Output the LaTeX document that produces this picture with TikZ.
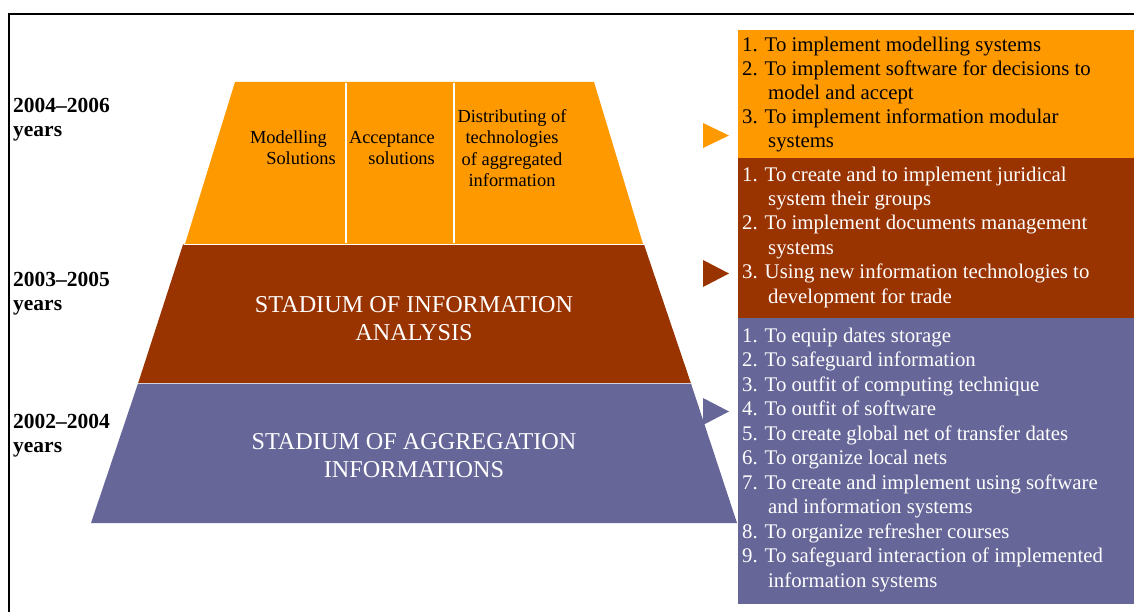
\documentclass[tikz,border=0pt]{standalone}
\usepackage{fontspec}
\setmainfont{Liberation Serif}
\definecolor{corange}{HTML}{FF9900}
\definecolor{cbrown}{HTML}{993300}
\definecolor{cpurple}{HTML}{666699}
\tikzset{
  yearlbl/.style={anchor=base west, align=left, inner sep=0pt, font=\fontsize{21.5}{24}\selectfont\bfseries},
  listtxt/.style={anchor=base west, align=left, inner sep=0pt, font=\fontsize{20.8}{24.4}\selectfont},
  stagetxt/.style={anchor=base, align=center, inner sep=0pt, text=white, font=\fontsize{24.2}{28}\selectfont},
  toptxt/.style={inner sep=0pt, font=\fontsize{18.4}{21.6}\selectfont},
  sepline/.style={draw=white, line width=1.2pt},
  frameline/.style={draw=black, line width=2pt}
}
\newcommand{\ind}{\hspace*{26pt}}
\begin{document}
\begin{tikzpicture}[x=1pt,y=-1pt]
\useasboundingbox (0,0) rectangle (1134,612);
% frame
\draw[frameline] (8.7,14.3) -- (1134,14.3);
\draw[frameline] (8.7,13.3) -- (8.7,612);
% pyramid
\fill[corange] (235,82) -- (594,82) -- (643,244) -- (185,244) -- cycle;
\fill[cbrown] (183,244.5) -- (644,244.5) -- (691,383.5) -- (138,383.5) -- cycle;
\fill[cpurple] (138,383.5) -- (691,383.5) -- (737,523) -- (91,523) -- cycle;
\draw[sepline] (346,83) -- (346,243.5);
\draw[sepline] (454,83) -- (454,243.5);
\draw[draw=white, line width=0.6pt] (184,244.3) -- (643.5,244.3);
\draw[draw=white!70!cpurple, line width=0.6pt] (138,383.5) -- (691,383.5);
% top texts (base anchor = baseline of last line)
\node[toptxt, anchor=base east, align=right] (tmod) at (336,165) {Modelling\hspace*{9pt}\\Solutions};
\node[toptxt, anchor=base east, align=right] (tacc) at (435,165) {Acceptance\\solutions};
\node[toptxt, anchor=base, align=center] (tdist) at (512,187) {Distributing of\\technologies\\of aggregated\\information};
% stage texts
\node[stagetxt] (sinfo) at (414,340) {STADIUM OF INFORMATION\\ANALYSIS};
\node[stagetxt] (sagg) at (414,477) {STADIUM OF AGGREGATION\\INFORMATIONS};
% year labels
\node[yearlbl] (y1) at (13,137) {2004–2006\\years};
\node[yearlbl] (y2) at (13,310) {2003–2005\\years};
\node[yearlbl] (y3) at (13,452) {2002–2004\\years};
% right boxes
\fill[corange] (738,30) rectangle (1134,158);
\fill[cbrown] (738,158) rectangle (1134,318);
\fill[cpurple] (738,318) rectangle (1134,604);
% triangles
\fill[corange] (703,123) -- (729,135.5) -- (703,148) -- cycle;
\fill[cbrown] (703,260) -- (729,273.5) -- (703,287) -- cycle;
\fill[cpurple] (703,398) -- (729,411.5) -- (703,425) -- cycle;
% lists
\node[listtxt, font=\fontsize{20.8}{24}\selectfont] (l1) at (742,148) {1. To implement modelling systems\\
2. To implement software for decisions to\\
\ind model and accept\\
3. To implement information modular\\
\ind systems};
\node[listtxt, text=white] (l2) at (742,303) {1. To create and to implement juridical\\
\ind system their groups\\
2. To implement documents management\\
\ind systems\\
3. Using new information technologies to\\
\ind development for trade};
\node[listtxt, text=white, font=\fontsize{20.8}{24.5}\selectfont] (l3) at (742,587) {1. To equip dates storage\\
2. To safeguard information\\
3. To outfit of computing technique\\
4. To outfit of software\\
5. To create global net of transfer dates\\
6. To organize local nets\\
7. To create and implement using software\\
\ind and information systems\\
8. To organize refresher courses\\
9. To safeguard interaction of implemented\\
\ind information systems};
\end{tikzpicture}
\end{document}
